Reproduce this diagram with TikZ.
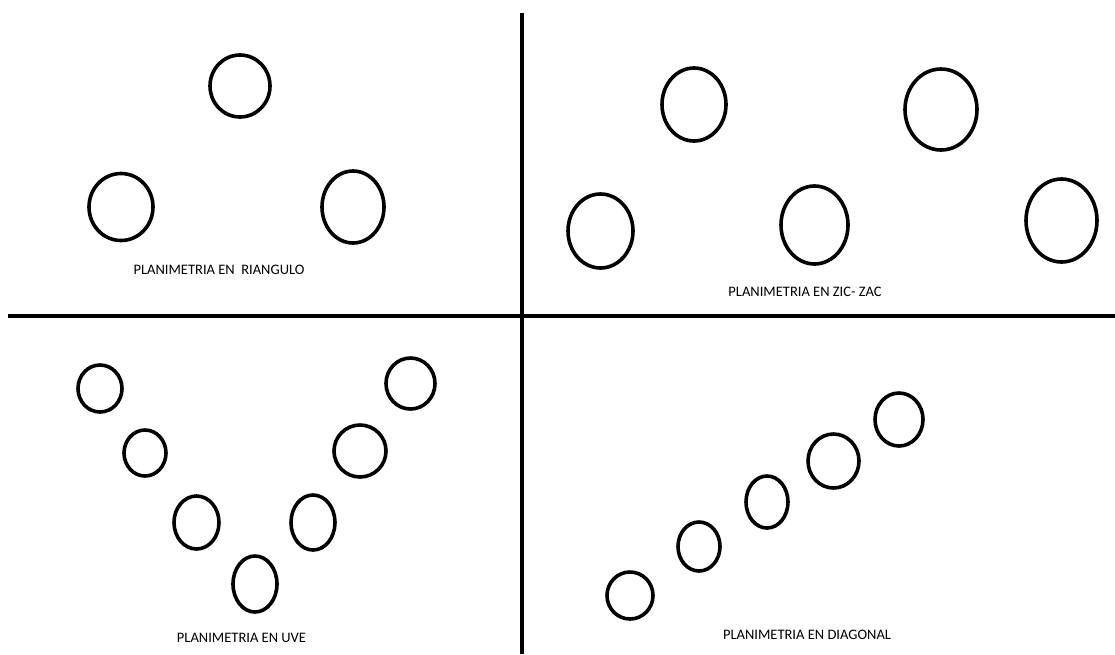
\documentclass[tikz,border=0pt]{standalone}
\usepackage{fontspec}
\setmainfont{Carlito}
\usepackage{tikz}
\usetikzlibrary{calc}

\tikzset{
  eje/.style={line width=4pt},
  hoyo/.style={line width=3.6pt},
  rotulo/.style={inner sep=0pt, font=\fontsize{14.5}{16}\selectfont}
}

\begin{document}
\begin{tikzpicture}[x=1pt, y=-1pt]
\useasboundingbox[fill=white] (0,0) rectangle (1115,654);
% ejes
\coordinate (izq) at (8,316); \coordinate (der) at (1115,316);
\coordinate (arr) at (522,13); \coordinate (aba) at (522,654);
\draw[eje] (izq) -- (der);
\draw[eje] (arr) -- (aba);
% triangulo
\foreach \cx/\cy/\rx/\ry in {240/86/30/31, 121/207/32/33.5, 353/207/31/36}
  \draw[hoyo] (\cx,\cy) ellipse [x radius=\rx, y radius=\ry];
\node[rotulo] (tri) at (219,270) {PLANIMETRIA EN~ RIANGULO};
% zic-zac
\foreach \cx/\cy/\rx/\ry in {600.5/231/32.5/37, 694/104.5/32/36.5, 814.5/225/33.5/39,
                             941/109.5/36/40.5, 1061.5/220.5/35.5/41.5}
  \draw[hoyo] (\cx,\cy) ellipse [x radius=\rx, y radius=\ry];
\node[rotulo] (zz) at (805,292) {PLANIMETRIA EN ZIC- ZAC};
% uve
\foreach \cx/\cy/\rx/\ry in {100/388.5/22/23.5, 145/453/21/23, 196.5/522.5/22.5/26.5,
                             255/584/22/28, 313/522.5/22/27.5, 360/451/26/26, 410.5/383.5/24.5/25.5}
  \draw[hoyo] (\cx,\cy) ellipse [x radius=\rx, y radius=\ry];
\node[rotulo] (uve) at (241.5,638) {PLANIMETRIA EN UVE};
% diagonal
\foreach \cx/\cy/\rx/\ry in {630/595.5/23/23.5, 699/546.5/21/24.5, 767/502/21/26,
                             833.5/461/25.5/27, 899/419.5/24/26.5}
  \draw[hoyo] (\cx,\cy) ellipse [x radius=\rx, y radius=\ry];
\node[rotulo] (diag) at (807,635) {PLANIMETRIA EN DIAGONAL};
\end{tikzpicture}
\end{document}
